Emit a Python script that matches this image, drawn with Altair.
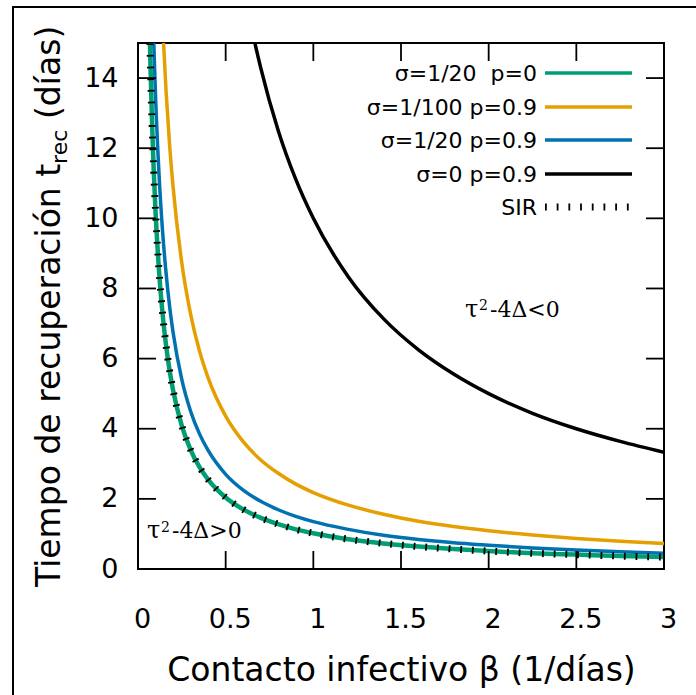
import altair as alt
import pandas as pd

# Contact rate beta (1/días) sampled along each curve
beta_main = [0.06, 0.07, 0.08, 0.09, 0.1, 0.12, 0.14, 0.16, 0.18, 0.2, 0.25, 0.3, 0.35, 0.4,
             0.5, 0.6, 0.7, 0.8, 0.9, 1.0, 1.2, 1.4, 1.6, 1.8, 2.0, 2.25, 2.5, 2.75, 3.0]
beta_orange = [0.12, 0.14, 0.16, 0.18, 0.2, 0.25, 0.3, 0.35, 0.4, 0.5, 0.6, 0.7, 0.8, 0.9,
               1.0, 1.2, 1.4, 1.6, 1.8, 2.0, 2.25, 2.5, 2.75, 3.0]
beta_black = [0.6, 0.65, 0.7, 0.8, 0.9, 1.0, 1.2, 1.4, 1.6, 1.8, 2.0, 2.25, 2.5, 2.75, 3.0]

# Recovery time t_rec (días)
t_green = [17.0, 14.57, 12.75, 11.33, 10.2, 8.5, 7.29, 6.38, 5.67, 5.1, 4.08, 3.4, 2.91, 2.55,
           2.04, 1.7, 1.46, 1.28, 1.13, 1.02, 0.85, 0.73, 0.64, 0.57, 0.51, 0.45, 0.41, 0.37, 0.34]
t_blue = [22.5, 19.29, 16.88, 15.0, 13.5, 11.25, 9.64, 8.44, 7.5, 6.75, 5.4, 4.5, 3.86, 3.38,
          2.7, 2.25, 1.93, 1.69, 1.5, 1.35, 1.13, 0.96, 0.84, 0.75, 0.68, 0.6, 0.54, 0.49, 0.45]
t_orange = [18.17, 15.57, 13.63, 12.11, 10.9, 8.72, 7.27, 6.23, 5.45, 4.36, 3.63, 3.11, 2.73,
            2.42, 2.18, 1.82, 1.56, 1.36, 1.21, 1.09, 0.97, 0.87, 0.79, 0.73]
t_black = [16.67, 15.38, 14.29, 12.5, 11.11, 10.0, 8.33, 7.14, 6.25, 5.56, 5.0, 4.44, 4.0, 3.64, 3.33]
t_sir = [17.0, 14.57, 12.75, 11.33, 10.2, 8.5, 7.29, 6.38, 5.67, 5.1, 4.08, 3.4, 2.91, 2.55,
         2.04, 1.7, 1.46, 1.28, 1.13, 1.02, 0.85, 0.73, 0.64, 0.57, 0.51, 0.45, 0.41, 0.37, 0.34]

labels = ["σ=1/20\u00a0 p=0", "σ=1/100 p=0.9", "σ=1/20 p=0.9", "σ=0 p=0.9", "SIR"]
colors = ["#009E73", "#E69F00", "#0072B2", "#000000", "#000000"]

x_ticks = [0, 0.5, 1, 1.5, 2, 2.5, 3]
y_ticks = [0, 2, 4, 6, 8, 10, 12, 14]

W, H = 526, 526
FONT = "DejaVu Sans"
SERIF = "DejaVu Serif"

xsc = alt.Scale(domain=[0, 3], nice=False, zero=False)
ysc = alt.Scale(domain=[0, 15], nice=False, zero=False)

xax = alt.Axis(values=x_ticks, format="~g", ticks=False, tickSize=0, domain=False, grid=False,
               labelFont=FONT, labelFontSize=27, labelColor="black", labelPadding=37,
               labelOffset=4, labelFlush=False, labelOverlap=False,
               title="Contacto infectivo β (1/días)", titleFont=FONT, titleFontSize=33,
               titleFontWeight="normal", titleColor="black", titleX=W / 2, titleY=111,
               titleBaseline="alphabetic", titleAlign="center")
yax = alt.Axis(values=y_ticks, ticks=False, tickSize=0, domain=False, grid=False,
               labelFont=FONT, labelFontSize=27, labelColor="black", labelPadding=20,
               labelFlush=False, labelOverlap=False,
               labelExpr="datum.value >= 10 ? datum.label + '\u00a0' : datum.label",
               title=None)

X = lambda f: alt.X(f, type="quantitative", scale=xsc, axis=xax)
Y = lambda f: alt.Y(f, type="quantitative", scale=ysc, axis=yax)

one = pd.DataFrame({"k": [0]})

layers = []

# Curves
curves = [
    (beta_main, t_green, colors[0], 4.5),
    (beta_orange, t_orange, colors[1], 3.5),
    (beta_main, t_blue, colors[2], 3.5),
    (beta_black, t_black, colors[3], 3.5),
]
for b, t, c, w in curves:
    df = pd.DataFrame({"beta": b, "t": t})
    layers.append(
        alt.Chart(df).mark_line(color=c, strokeWidth=w, clip=True, interpolate="monotone")
        .encode(x=X("beta"), y=Y("t"))
    )

# SIR curve: short perpendicular dashes
df_sir = pd.DataFrame({"beta": beta_main, "t": t_sir})
layers.append(
    alt.Chart(df_sir).mark_line(color="black", strokeWidth=7, strokeDash=[1.8, 9.9],
                                strokeCap="butt", clip=True, interpolate="monotone")
    .encode(x=X("beta"), y=Y("t"))
)

# Inward ticks on all four sides
dxt = pd.DataFrame({"v": x_ticks})
dyt = pd.DataFrame({"v": y_ticks})
tick_style = dict(color="black", strokeWidth=1.8)
layers += [
    alt.Chart(dxt).mark_rule(**tick_style).encode(x=X("v"), y=alt.value(H), y2=alt.value(H - 18)),
    alt.Chart(dxt).mark_rule(**tick_style).encode(x=X("v"), y=alt.value(0), y2=alt.value(18)),
    alt.Chart(dyt).mark_rule(**tick_style).encode(y=Y("v"), x=alt.value(0), x2=alt.value(18)),
    alt.Chart(dyt).mark_rule(**tick_style).encode(y=Y("v"), x=alt.value(W), x2=alt.value(W - 18)),
]

# Region annotations: tau, raised 2, rest of the expression
def region_label(bx, ty, tail):
    parts = [("τ", 24, 0, 0), ("2", 14, 14, -6.5), (tail, 22, 25, 0)]
    out = []
    for txt, fs, dx, dy in parts:
        out.append(
            alt.Chart(one).mark_text(text=txt, font=SERIF, fontSize=fs, align="left",
                                     baseline="alphabetic", color="black", dx=dx, dy=dy)
            .encode(x=alt.XDatum(bx, scale=xsc, axis=xax), y=alt.YDatum(ty, scale=ysc, axis=yax))
        )
    return out

layers += region_label(1.865, 7.19, "-4Δ<0")
layers += region_label(0.051, 0.88, "-4Δ>0")

# Legend (text to the left of each line sample)
row_y = [30, 64, 97, 131, 164]
for i, (lab, col) in enumerate(zip(labels, colors)):
    layers.append(
        alt.Chart(one).mark_text(text=lab, font=FONT, fontSize=22, align="right",
                                 baseline="middle", color="black", dy=1)
        .encode(x=alt.value(399), y=alt.value(row_y[i]))
    )
    if lab == "SIR":
        mk = alt.Chart(one).mark_rule(color=col, strokeWidth=7, strokeDash=[1.8, 9.9], strokeCap="butt")
    else:
        mk = alt.Chart(one).mark_rule(color=col, strokeWidth=3.5)
    layers.append(mk.encode(x=alt.value(407), x2=alt.value(494), y=alt.value(row_y[i])))

# Y axis title with subscript, built from three rotated pieces
ytitle = [
    ("Tiempo de recuperación t", 33, -78, 544),
    ("rec", 22, -71, 120.9),
    ("(días)", 33, -78, 76),
]
for txt, fs, px, py in ytitle:
    layers.append(
        alt.Chart(one).mark_text(text=txt, font=FONT, fontSize=fs, angle=270, align="left",
                                 baseline="alphabetic", color="black")
        .encode(x=alt.value(px), y=alt.value(py))
    )

# Outer frame around the figure
layers.append(
    alt.Chart(one).mark_rect(filled=False, stroke="black", strokeWidth=2, clip=False)
    .encode(x=alt.value(-125), x2=alt.value(620), y=alt.value(-36), y2=alt.value(700))
)

chart = (
    alt.layer(*layers)
    .properties(width=W, height=H, background="white",
                padding={"left": 138, "top": 43, "right": 32, "bottom": 126},
                autosize=alt.AutoSizeParams(type="none"))
    .configure_view(stroke="black", strokeWidth=2)
)

chart.save("out.html", embed_options={"renderer": "svg", "actions": False})
